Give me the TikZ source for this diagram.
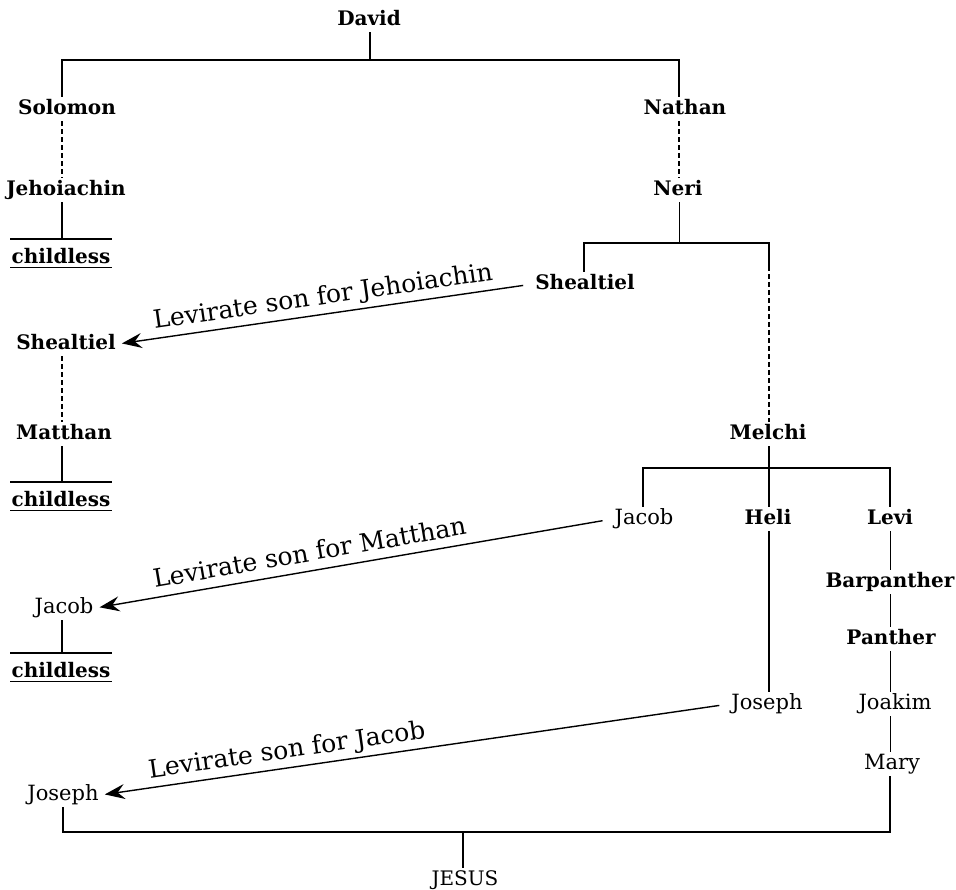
\documentclass[tikz,border=0pt]{standalone}
\usepackage{fontspec}
\setmainfont{DejaVu Serif}
\usetikzlibrary{arrows.meta}
\begin{document}
\begin{tikzpicture}[x=1pt,y=-1pt,
  nm/.style={font=\fontsize{21}{25}\selectfont, text height=16pt, text depth=4.5pt, inner sep=2pt},
  nmb/.style={nm, font=\fontsize{20}{24}\selectfont\bfseries},
  cl/.style={font=\fontsize{20}{24}\selectfont\bfseries, text height=20pt, text depth=0pt, inner ysep=4pt, inner xsep=1pt},
  lbl/.style={font=\fontsize{25}{30}\selectfont, sloped, above, text depth=0pt, inner ysep=9pt, inner xsep=0pt},
  ln/.style={line width=1.4pt},
  thinln/.style={line width=0.8pt},
  dsh/.style={line width=1.4pt, dash pattern=on 5pt off 3pt},
  lev/.style={line width=1.4pt, -{Stealth[length=20pt,width=15pt,inset=7pt]}, shorten <=10pt, shorten >=4pt}
]
\useasboundingbox (0,0) rectangle (956,890);

% names
\node[nmb] (david) at (369,20) {David};
\node[nmb] (solomon) at (67,109) {Solomon};
\node[nmb] (nathan) at (685,109) {Nathan};
\node[nmb] (jehoiachin) at (66,190) {Jehoiachin};
\node[nmb] (neri) at (678,190) {Neri};
\node[cl,anchor=north] (chA) at (61,239) {childless};
\node[nmb] (shR) at (585,284) {Shealtiel};
\node[nmb] (shL) at (66,344) {Shealtiel};
\node[nmb] (matthan) at (64,434) {Matthan};
\node[cl,anchor=north] (chB) at (61,482) {childless};
\node[nmb] (melchi) at (768,434) {Melchi};
\node[nm] (jacobR) at (644,519) {Jacob};
\node[nmb] (heli) at (768,519) {Heli};
\node[nmb] (levi) at (890,519) {Levi};
\node[nmb] (barpanther) at (890,582) {Barpanther};
\node[nm] (jacobL) at (64,608) {Jacob};
\node[cl,anchor=north] (chC) at (61,653) {childless};
\node[nmb] (panther) at (891,639) {Panther};
\node[nm] (josephR) at (767,704) {Joseph};
\node[nm] (joakim) at (895,704) {Joakim};
\node[nm] (mary) at (892,764) {Mary};
\node[nm] (josephL) at (63,795) {Joseph};
\node[nm, font=\fontsize{20}{24}\selectfont] (jesus) at (465,880) {JESUS};

% junction coordinates
\coordinate (dv) at (370,60);
\coordinate (tl) at (62,60);
\coordinate (tr) at (679,60);
\coordinate (nb) at (679,243);
\coordinate (nbl) at (584,243);
\coordinate (nbr) at (769,243);
\coordinate (nbd) at (769,266);
\coordinate (mb) at (769,468);
\coordinate (mbl) at (643,468);
\coordinate (mbr) at (890,468);
\coordinate (bl) at (63,832);
\coordinate (br) at (890,832);
\coordinate (js) at (463,832);

% David's sons
\draw[ln] (david.south -| dv) -- (dv);
\draw[ln] (solomon.north -| tl) -- (tl) -- (tr) -- (nathan.north -| tr);

% Solomon line
\draw[dsh] (solomon.south -| tl) -- (jehoiachin.north -| tl);
\draw[ln] (jehoiachin.south -| tl) -- (chA.north -| tl);
\draw[ln] (chA.north west) -- (chA.north east);
\draw[ln] (chA.south west) -- (chA.south east);

% Nathan line
\draw[dsh] (nathan.south -| tr) -- (neri.north -| tr);
\draw[thinln] (neri.south -| nb) -- (nb);
\draw[ln] (shR.north -| nbl) -- (nbl) -- (nbr) -- (nbd);
\draw[dsh] (nbd) -- (melchi.north -| nbd);

% left Shealtiel
\draw[dsh] (shL.south -| tl) -- (matthan.north -| tl);
\draw[ln] (matthan.south -| tl) -- (chB.north -| tl);
\draw[ln] (chB.north west) -- (chB.north east);
\draw[ln] (chB.south west) -- (chB.south east);

% Melchi's sons
\draw[ln] (melchi.south -| mb) -- (heli.north -| mb);
\draw[ln] (jacobR.north -| mbl) -- (mbl) -- (mbr) -- (levi.north -| mbr);
\draw[ln] (heli.south -| mb) -- (josephR.north -| mb);
\draw[thinln] (levi.south -| mbr) -- (barpanther.north -| mbr);
\draw[thinln] (barpanther.south -| mbr) -- (panther.north -| mbr);
\draw[thinln] (panther.south -| mbr) -- (joakim.north -| mbr);
\draw[thinln] (joakim.south -| mbr) -- (mary.north -| mbr);

% left Jacob
\draw[ln] (jacobL.south -| tl) -- (chC.north -| tl);
\draw[ln] (chC.north west) -- (chC.north east);
\draw[ln] (chC.south west) -- (chC.south east);

% Jesus
\draw[ln] (josephL.south -| bl) -- (bl) -- (br) -- (mary.south -| br);
\draw[ln] (js) -- (jesus.north -| js);

% levirate arrows
\draw[lev] (shR.west) -- node[lbl, pos=0.5] {Levirate son for Jehoiachin} (shL.east);
\draw[lev] (jacobR.west) -- node[lbl, pos=0.58] {Levirate son for Matthan} (jacobL.east);
\draw[lev] (josephR.west) -- node[lbl, pos=0.70] {Levirate son for Jacob} (josephL.east);
\end{tikzpicture}
\end{document}
